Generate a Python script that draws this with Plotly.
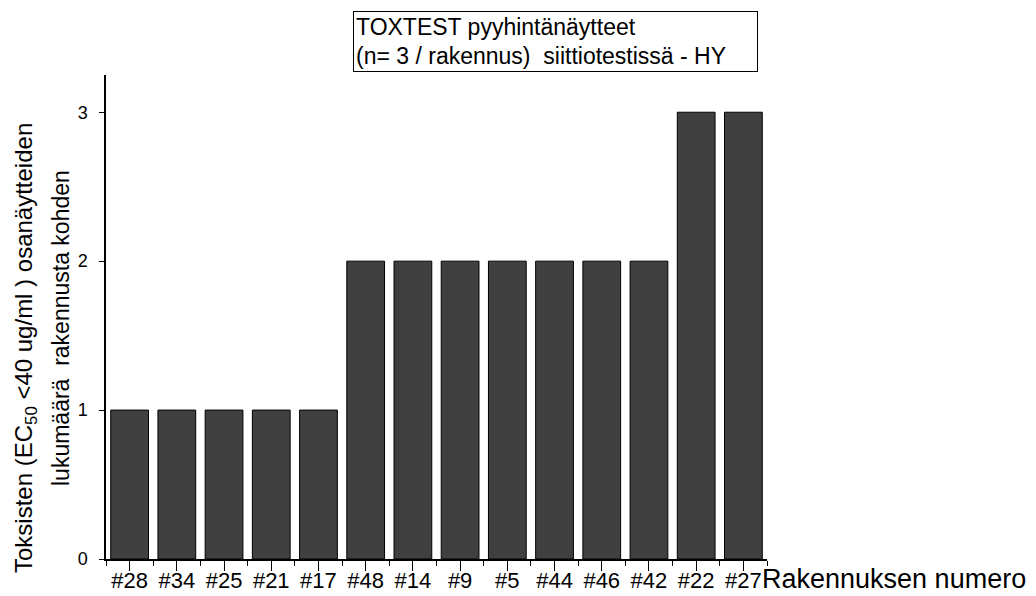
import plotly.graph_objects as go

# Buildings and the number of toxic sub-samples per building
buildings = ["#28", "#34", "#25", "#21", "#17", "#48", "#14",
             "#9", "#5", "#44", "#46", "#42", "#22", "#27"]
toxic_counts = [1, 1, 1, 1, 1, 2, 2, 2, 2, 2, 2, 2, 3, 3]
y_ticks = [0, 1, 2, 3]

FONT = "Liberation Sans, Arial, sans-serif"
W, H = 1036, 596
L, R, T, B = 106, 269, 75, 37
pw, ph = W - L - R, H - T - B


def px_x(px):
    return (px - L) / pw


def px_y(py):
    return (H - B - py) / ph


idx = list(range(len(buildings)))

fig = go.Figure(
    go.Bar(
        x=idx,
        y=toxic_counts,
        width=0.8,
        marker=dict(color="#404040", line=dict(color="black", width=1)),
        hoverinfo="skip",
    )
)

fig.update_xaxes(
    range=[-0.5, len(buildings) - 0.5],
    tickvals=idx,
    ticktext=buildings,
    ticks="outside",
    ticklen=10,
    tickwidth=1.3,
    tickcolor="black",
    showline=True,
    linecolor="black",
    linewidth=1.5,
    showgrid=False,
    zeroline=False,
    tickfont=dict(family=FONT, size=22, color="black"),
    ticklabelstandoff=-9,
    minor=dict(
        tickvals=[i + 0.5 for i in range(-1, len(buildings))],
        ticks="outside",
        ticklen=5,
        tickwidth=1.3,
        tickcolor="black",
        showgrid=False,
    ),
)

fig.update_yaxes(
    range=[0, 3.25],
    tickvals=y_ticks,
    ticks="outside",
    ticklen=5,
    tickwidth=1.3,
    tickcolor="black",
    showline=True,
    linecolor="black",
    linewidth=1.5,
    showgrid=False,
    zeroline=False,
    tickfont=dict(family=FONT, size=18, color="black"),
    ticklabelstandoff=8,
)

annotations = [
    # title box
    dict(
        text="TOXTEST pyyhintänäytteet<br>(n= 3 / rakennus)\u00a0 siittiotestissä - HY",
        xref="paper", yref="paper",
        x=px_x(353), y=px_y(11), xanchor="left", yanchor="top",
        align="left", valign="middle", showarrow=False,
        width=399, height=55,
        bordercolor="black", borderwidth=1, borderpad=2,
        font=dict(family=FONT, size=23, color="black"),
    ),
    # x-axis title at the right end of the axis
    dict(
        text="Rakennuksen numero",
        xref="paper", yref="paper",
        x=px_x(760), y=px_y(579), xanchor="left", yanchor="middle",
        showarrow=False,
        font=dict(family=FONT, size=27, color="black"),
    ),
    # y-axis title, two lines
    dict(
        text="Toksisten (EC<sub>50</sub> <40 ug/ml ) osanäytteiden",
        xref="paper", yref="paper",
        x=px_x(25), y=px_y(348), xanchor="center", yanchor="middle",
        textangle=-90, showarrow=False,
        font=dict(family=FONT, size=24, color="black"),
    ),
    dict(
        text="lukumäärä\u00a0 rakennusta kohden",
        xref="paper", yref="paper",
        x=px_x(61), y=px_y(328), xanchor="center", yanchor="middle",
        textangle=-90, showarrow=False,
        font=dict(family=FONT, size=23, color="black"),
    ),
]

fig.update_layout(
    width=W,
    height=H,
    margin=dict(l=L, r=R, t=T, b=B, autoexpand=False),
    paper_bgcolor="white",
    plot_bgcolor="white",
    showlegend=False,
    annotations=annotations,
    font=dict(family=FONT, color="black"),
)

fig.write_html("out.html", config={"displayModeBar": False})
